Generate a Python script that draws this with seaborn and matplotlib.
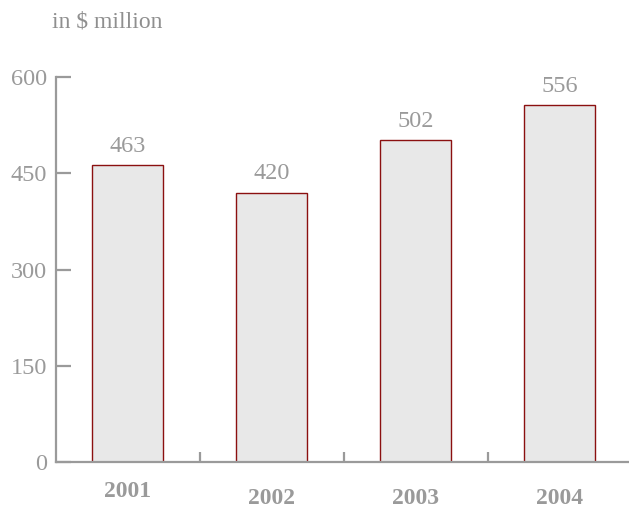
import matplotlib
matplotlib.use("Agg")
import matplotlib.pyplot as plt
import matplotlib.transforms as mtransforms
import seaborn as sns
import pandas as pd

years = ["2001", "2002", "2003", "2004"]
values = [463, 420, 502, 556]
yticks = [0, 150, 300, 450, 600]
title = "in \\$ million"

sns.set_theme(style="white")
plt.rcParams['font.family'] = ['Liberation Serif', 'DejaVu Serif']

gray = "#9a9a9a"
df = pd.DataFrame({"year": years, "value": values})

fig = plt.figure(figsize=(6.29, 5.12), dpi=100)
ax = fig.add_axes([55.5 / 629, 50 / 512, 576 / 629, 385 / 512])

sns.barplot(data=df, x="year", y="value", ax=ax, color="#e8e8e8",
            edgecolor="#8b1010", linewidth=1.0, width=0.49, saturation=1)
for p in ax.patches:
    p.set_facecolor("#e8e8e8")
    p.set_edgecolor("#8b1010")

ax.set_xlim(-0.5, 3.5)
ax.set_ylim(0, 600)
ax.set_xlabel("")
ax.set_ylabel("")

for s in ["top", "right"]:
    ax.spines[s].set_visible(False)
for s in ["left", "bottom"]:
    ax.spines[s].set_color(gray)
    ax.spines[s].set_linewidth(1.6)

ax.set_yticks(yticks)
ax.set_yticklabels([str(t) for t in yticks])
ax.tick_params(axis="y", direction="in", length=11, width=1.6, color=gray,
               labelcolor=gray, labelsize=17.5, pad=6, left=True)

ax.set_xticks(range(len(years)))
ax.set_xticklabels(years, fontweight="bold")
ax.tick_params(axis="x", which="major", length=0, labelcolor=gray,
               labelsize=17, pad=18.5, bottom=True)
ax.set_xticks([0.5, 1.5, 2.5], minor=True)
ax.tick_params(axis="x", which="minor", direction="in", length=7, width=1.6,
               color=gray, bottom=True)

lbls = ax.get_xticklabels()
lbls[0].set_transform(lbls[0].get_transform() +
                      mtransforms.ScaledTranslation(0, 7 / 100, fig.dpi_scale_trans))

for i, v in enumerate(values):
    ax.annotate(str(v), (i, v), xytext=(0, 6), textcoords="offset points",
                ha="center", va="bottom", color=gray, fontsize=17.5)

fig.text(52 / 629, 1 - 22 / 512, title, ha="left", va="center",
         color="#8f8f8f", fontsize=17)

fig.savefig("out.png", dpi=100)
